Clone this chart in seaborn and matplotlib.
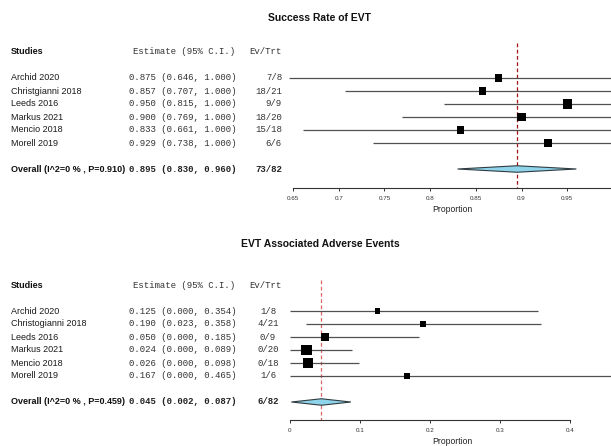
import matplotlib
matplotlib.use("Agg")
import matplotlib.pyplot as plt
import matplotlib.transforms as mtransforms
from matplotlib.patches import Polygon
import numpy as np
import pandas as pd
import seaborn as sns

# ---- Success rate of EVT ----
success_studies = ["Archid 2020", "Christgianni 2018", "Leeds 2016",
                   "Markus 2021", "Mencio 2018", "Morell 2019"]
success_est = [0.875, 0.857, 0.950, 0.900, 0.833, 0.929]
success_lo = [0.646, 0.707, 0.815, 0.769, 0.661, 0.738]
success_hi = [1.000, 1.000, 1.000, 1.000, 1.000, 1.000]
success_ev = ["7/8", "18/21", "9/9", "18/20", "15/18", "6/6"]
success_weight = [14.1, 14.1, 23.3, 18.4, 14.1, 16.1]
success_overall = dict(label="Overall (I^2=0 % , P=0.910)",
                       est=0.895, lo=0.830, hi=0.960, ev="73/82")
success_ticks = [0.65, 0.7, 0.75, 0.8, 0.85, 0.9, 0.95]
success_ticklabels = ["0.65", "0.7", "0.75", "0.8", "0.85", "0.9", "0.95"]

# ---- EVT associated adverse events ----
adverse_studies = ["Archid 2020", "Christogianni 2018", "Leeds 2016",
                   "Markus 2021", "Mencio 2018", "Morell 2019"]
adverse_est = [0.125, 0.190, 0.050, 0.024, 0.026, 0.167]
adverse_lo = [0.000, 0.023, 0.000, 0.000, 0.000, 0.000]
adverse_hi = [0.354, 0.358, 0.185, 0.089, 0.098, 0.465]
adverse_ev = ["1/8", "4/21", "0/9", "0/20", "0/18", "1/6"]
adverse_weight = [7.8, 7.8, 16.6, 31.4, 28.6, 7.8]
adverse_overall = dict(label="Overall (I^2=0 % , P=0.459)",
                       est=0.045, lo=0.002, hi=0.087, ev="6/82")
adverse_ticks = [0, 0.1, 0.2, 0.3, 0.4]
adverse_ticklabels = ["0", "0.1", "0.2", "0.3", "0.4"]

sns.set_style("white")
plt.rcParams["font.family"] = ["Liberation Sans", "DejaVu Sans"]

W, H = 611, 446
fig = plt.figure(figsize=(W / 100, H / 100), dpi=100)

ROW_PX = 13.0
SANS = 6.5
MONO = 6.5
MONO_FAMILY = ["Liberation Mono", "DejaVu Sans Mono"]
# marker area (pt^2) per unit of study weight
AREA_PER_WEIGHT = 1.9


def fx(px):
    return px / W


def forest(title, title_px, top_px, first_row_px, axis_px, studies, est, lo, hi,
           ev, weight, overall, xlim, ticks, ticklabels, spine_hi, ev_align,
           ev_x, ref_color, dash_top):
    rows = np.arange(len(studies))
    overall_row = len(studies) + 1

    ax = fig.add_axes([fx(285), 1 - axis_px / H, 1 - fx(285), (axis_px - top_px) / H])
    ax.set_xlim(*xlim)
    ax.set_ylim((axis_px - first_row_px) / ROW_PX, (top_px - first_row_px) / ROW_PX)

    df = pd.DataFrame({"study": studies, "est": est, "lo": lo, "hi": hi,
                       "weight": weight, "row": rows})

    # confidence intervals
    ax.hlines(df["row"], df["lo"], df["hi"], color="#505050", linewidth=0.9, zorder=2)
    # study estimates, square area proportional to weight
    wmax = max(weight)
    sns.scatterplot(data=df, x="est", y="row", size="weight",
                    sizes=(0, AREA_PER_WEIGHT * wmax), size_norm=(0, wmax),
                    marker="s", color="black", linewidth=0, legend=False,
                    ax=ax, zorder=4)

    # pooled diamond
    h = 0.25
    diamond = Polygon([(overall["lo"], overall_row), (overall["est"], overall_row - h),
                       (overall["hi"], overall_row), (overall["est"], overall_row + h)],
                      closed=True, facecolor="#8fd4ea", edgecolor="#2f3b40",
                      linewidth=0.8, zorder=3)
    ax.add_patch(diamond)

    # pooled estimate reference line
    ax.vlines(overall["est"], dash_top, ax.get_ylim()[0], colors=ref_color,
              linestyles=(0, (3, 2)), linewidth=0.9, zorder=1)

    ax.set_xlabel("")
    ax.set_ylabel("")
    ax.set_yticks([])
    for side in ("left", "right", "top"):
        ax.spines[side].set_visible(False)
    ax.spines["bottom"].set_bounds(ticks[0], spine_hi)
    ax.spines["bottom"].set_color("#333333")
    ax.spines["bottom"].set_linewidth(0.8)
    ax.set_xticks(ticks)
    ax.set_xticklabels(ticklabels)
    ax.tick_params(axis="x", direction="out", length=2.5, width=0.7,
                   colors="#333333", labelsize=4.5, pad=3, bottom=True)
    ax.set_facecolor("none")

    # text columns
    tr = mtransforms.blended_transform_factory(fig.transFigure, ax.transData)
    hdr = -2
    ax.text(fx(11), hdr, "Studies", transform=tr, fontsize=SANS, fontweight="bold",
            va="center", ha="left", color="#111111")
    ax.text(fx(133), hdr, "Estimate (95% C.I.)", transform=tr, fontsize=MONO,
            family=MONO_FAMILY, va="center", ha="left", color="#333333")
    ax.text(fx(282), hdr, "Ev/Trt", transform=tr, fontsize=MONO,
            family=MONO_FAMILY, va="center", ha="right", color="#333333")
    for r, name, e, l, u, t in zip(rows, studies, est, lo, hi, ev):
        ax.text(fx(11), r, name, transform=tr, fontsize=SANS, va="center",
                ha="left", color="#1a1a1a")
        ax.text(fx(129), r, f"{e:.3f} ({l:.3f}, {u:.3f})", transform=tr,
                fontsize=MONO, family=MONO_FAMILY, va="center", ha="left",
                color="#333333")
        ax.text(fx(ev_x), r, t, transform=tr, fontsize=MONO, family=MONO_FAMILY,
                va="center", ha=ev_align, color="#333333")
    ax.text(fx(11), overall_row, overall["label"], transform=tr, fontsize=SANS,
            fontweight="bold", va="center", ha="left", color="#111111")
    ax.text(fx(129), overall_row,
            f"{overall['est']:.3f} ({overall['lo']:.3f}, {overall['hi']:.3f})",
            transform=tr, fontsize=MONO, family=MONO_FAMILY, fontweight="bold",
            va="center", ha="left", color="#222222")
    ax.text(fx(ev_x), overall_row, overall["ev"], transform=tr, fontsize=MONO,
            family=MONO_FAMILY, fontweight="bold", va="center", ha=ev_align,
            color="#222222")

    fig.text(fx(320), 1 - title_px / H, title, fontsize=7.5, fontweight="bold",
             ha="center", va="center", color="#111111")
    fig.text(fx(452), 1 - (axis_px + 21) / H, "Proportion", fontsize=6.2,
             ha="center", va="center", color="#222222")
    return ax


forest("Success Rate of EVT", 18, 40, 78, 188,
       success_studies, success_est, success_lo, success_hi, success_ev,
       success_weight, success_overall, (0.6412, 0.9979),
       success_ticks, success_ticklabels, 1.0, "right", 282, "#a31515", -2.7)

forest("EVT Associated Adverse Events", 244, 272, 311, 420,
       adverse_studies, adverse_est, adverse_lo, adverse_hi, adverse_ev,
       adverse_weight, adverse_overall, (-0.0071, 0.4586),
       adverse_ticks, adverse_ticklabels, 0.4, "center", 268, "#e06666", -2.4)

fig.savefig("out.png", dpi=100)
